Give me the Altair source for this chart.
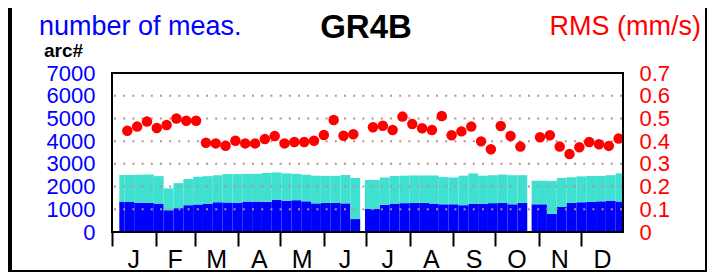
import altair as alt
import pandas as pd

# ---------------- data ----------------
month_letters = ["J", "F", "M", "A", "M", "J", "J", "A", "S", "O", "N", "D"]
month_start_day = [0, 31, 59, 90, 120, 151, 181, 212, 243, 273, 304, 334]
month_mid_day = [15.5, 45, 74.5, 105, 135.5, 166, 196.5, 227.5, 258, 288.5, 319, 349.5]

# weekly number of measurements (bottom part, dark blue) and total (top of turquoise)
meas_blue = [1320, 1320, 1290, 1290, 1250, 960, 1050, 1180, 1210, 1250,
             1310, 1300, 1290, 1340, 1340, 1330, 1410, 1370, 1400, 1350,
             1260, 1280, 1280, 1260, 570,
             1010, 1010, 1200, 1250, 1270, 1280, 1280, 1250, 1220, 1220,
             1180, 1250, 1250, 1270, 1290, 1220, 1280,
             1220, 1220, 800, 1100, 1290, 1310, 1320, 1350, 1380, 1340]
meas_total = [2510, 2510, 2520, 2530, 2460, 1920, 2150, 2330, 2430, 2460,
              2500, 2550, 2550, 2560, 2560, 2600, 2620, 2580, 2560, 2520,
              2480, 2470, 2470, 2510, 2380,
              2290, 2290, 2400, 2465, 2480, 2490, 2490, 2490, 2420, 2400,
              2480, 2580, 2480, 2500, 2530, 2500, 2500,
              2260, 2260, 2250, 2380, 2410, 2450, 2465, 2470, 2500, 2580]
# week start day of year; some weeks only partly covered
week_start_day = [1.8 + 7 * k for k in range(52)]
partial_start = {0: 5.2, 25: 180.2, 42: 298.9}

# weekly RMS (mm/s); None = no value
rms = [0.446, 0.464, 0.486, 0.458, 0.471, 0.500, 0.490, 0.490, 0.393, 0.390,
       0.380, 0.402, 0.390, 0.390, 0.409, 0.423, 0.390, 0.396, 0.396, 0.402,
       0.427, 0.493, 0.424, 0.430, None,
       0.461, 0.468, 0.449, 0.508, 0.475, 0.457, 0.449, 0.511, 0.426, 0.443,
       0.464, 0.399, 0.364, 0.467, 0.423, 0.376, None,
       0.417, 0.426, 0.376, 0.343, 0.373, 0.396, 0.386, 0.379, 0.412]
rms_day = [10.9 + 7 * k for k in range(len(rms))]

grid_values = [1000, 2000, 3000, 4000, 5000, 6000]
left_ticks = [0, 1000, 2000, 3000, 4000, 5000, 6000, 7000]
right_ticks = [0, 0.1, 0.2, 0.3, 0.4, 0.5, 0.6, 0.7]

# ---------------- tables ----------------
DAY_MAX = 364
bars_df = pd.DataFrame({
    "start": [partial_start.get(k, s) for k, s in enumerate(week_start_day)],
    "end": [min(s + 7, DAY_MAX) for s in week_start_day],
    "blue": meas_blue,
    "total": meas_total,
    "zero": [0] * len(meas_blue),
})
rms_df = pd.DataFrame({"day": rms_day, "rms": rms}).dropna()
grid_df = pd.DataFrame({"v": grid_values})
month_df = pd.DataFrame({"mid": month_mid_day, "m": month_letters})
one = pd.DataFrame({"a": [0]})

# ---------------- chart ----------------
W, H = 511, 159
FONT = "Liberation Sans"
BLUE = "#0000FF"
TURQ = "#40E0D0"
RED = "#FF0000"

x_scale = alt.Scale(domain=[0, DAY_MAX], nice=False, zero=False)
y_left = alt.Scale(domain=[0, 7000], nice=False)
y_right = alt.Scale(domain=[0, 0.7], nice=False)

x_axis = alt.Axis(values=month_start_day, labels=False, ticks=True, tickSize=14,
                  tickWidth=2, tickColor="black", domain=False, grid=False, title=None)
left_axis = alt.Axis(values=left_ticks, ticks=False, domain=False, grid=False,
                     labelColor=BLUE, labelFontSize=22, labelFont=FONT,
                     labelPadding=17, format="d", title=None)
right_axis = alt.Axis(orient="right", values=right_ticks, ticks=False, domain=False,
                      grid=False, labelColor=RED, labelFontSize=22, labelFont=FONT,
                      labelPadding=16, title=None,
                      labelExpr="datum.value == 0 ? '0' : format(datum.value, '.1f')")

blue_bars = alt.Chart(bars_df).mark_rect(color=BLUE).encode(
    x=alt.X("start:Q", scale=x_scale, axis=x_axis),
    x2="end:Q",
    y=alt.Y("blue:Q", scale=y_left, axis=left_axis),
    y2="zero:Q",
)
turq_bars = alt.Chart(bars_df).mark_rect(color=TURQ).encode(
    x=alt.X("start:Q", scale=x_scale, axis=x_axis),
    x2="end:Q",
    y=alt.Y("total:Q", scale=y_left, axis=left_axis),
    y2="blue:Q",
)
grid = alt.Chart(grid_df).mark_rule(color="#BC8F8F", strokeWidth=2,
                                    strokeDash=[2, 7.2]).encode(
    y=alt.Y("v:Q", scale=y_left, axis=left_axis),
    x=alt.value(2), x2=alt.value(W),
)
left_group = alt.layer(blue_bars, turq_bars, grid)

dots = alt.Chart(rms_df).mark_circle(size=110, color=RED, opacity=1).encode(
    x=alt.X("day:Q", scale=x_scale, axis=x_axis),
    y=alt.Y("rms:Q", scale=y_right, axis=right_axis),
)

frame = alt.Chart(one).mark_rect(filled=False, stroke="black", strokeWidth=2).encode(
    x=alt.value(0), x2=alt.value(W), y=alt.value(0), y2=alt.value(H))

band_left = alt.Chart(one).mark_rect(color="black").encode(
    x=alt.value(-104), x2=alt.value(-100), y=alt.value(-65), y2=alt.value(199))
band_right = alt.Chart(one).mark_rect(color="black").encode(
    x=alt.value(593), x2=alt.value(595), y=alt.value(-65), y2=alt.value(199))
band_bottom = alt.Chart(one).mark_rect(color="black").encode(
    x=alt.value(-104), x2=alt.value(595), y=alt.value(197), y2=alt.value(199))

months = alt.Chart(month_df).mark_text(font=FONT, fontSize=25, color="black",
                                       baseline="alphabetic", align="center").encode(
    x=alt.X("mid:Q", scale=x_scale, axis=x_axis),
    y=alt.value(195),
    text="m:N",
)

t_left = alt.Chart(one).mark_text(text="number of meas.", font=FONT, fontSize=27,
                                  color=BLUE, align="left", baseline="alphabetic").encode(
    x=alt.value(-73), y=alt.value(-38))
t_title = alt.Chart(one).mark_text(text="GR4B", font=FONT, fontSize=33, fontWeight="bold",
                                   color="black", align="center", baseline="alphabetic").encode(
    x=alt.value(254), y=alt.value(-35))
t_right = alt.Chart(one).mark_text(text="RMS (mm/s)", font=FONT, fontSize=27,
                                   color=RED, align="right", baseline="alphabetic").encode(
    x=alt.value(589), y=alt.value(-38))
t_arc = alt.Chart(one).mark_text(text="arc#", font=FONT, fontSize=19, fontWeight="bold",
                                 color="black", align="left", baseline="alphabetic").encode(
    x=alt.value(-68), y=alt.value(-16))

chart = alt.layer(
    left_group, dots, frame, band_left, band_right, band_bottom,
    months, t_left, t_title, t_right, t_arc,
).resolve_scale(y="independent").properties(
    width=W, height=H,
    autosize=alt.AutoSizeParams(type="none"),
    padding={"left": 104, "top": 65, "right": 84, "bottom": 40},
    background="white",
).configure_view(stroke=None)

chart.save("out.html", embed_options={"renderer": "svg", "actions": False})
